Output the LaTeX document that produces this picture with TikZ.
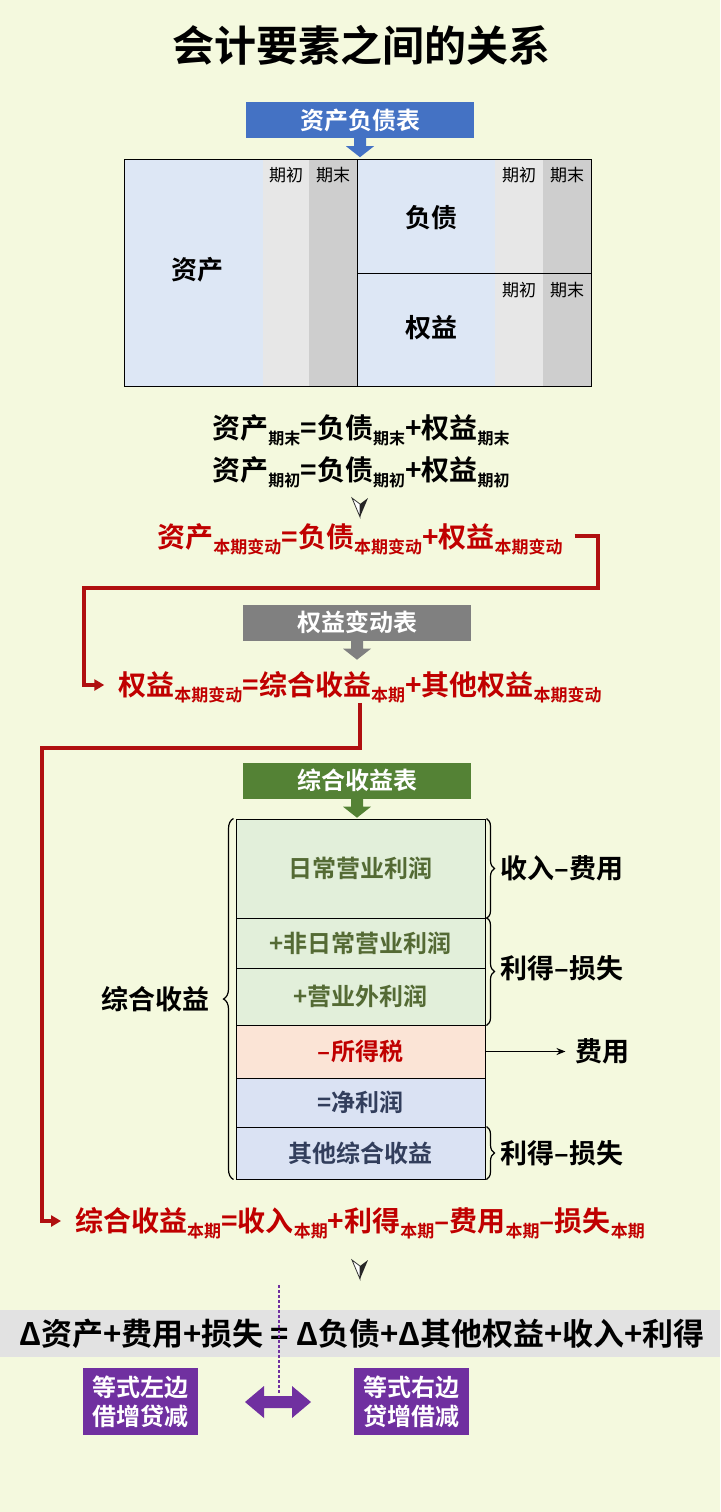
\documentclass[tikz,border=0pt]{standalone}
\usepackage{fontspec}
\setmainfont{Noto Sans CJK SC}[BoldFont={Noto Sans CJK SC Bold}]
\usetikzlibrary{arrows.meta,positioning,decorations.pathreplacing}

\definecolor{bgcol}{RGB}{244,249,222}
\definecolor{bluehd}{RGB}{68,114,196}
\definecolor{grayhd}{RGB}{128,128,128}
\definecolor{greenhd}{RGB}{84,130,53}
\definecolor{purp}{RGB}{112,48,160}
\definecolor{redtx}{RGB}{192,0,0}
\definecolor{linkred}{RGB}{176,16,16}
\definecolor{sheetbl}{RGB}{221,231,245}
\definecolor{colini}{RGB}{231,231,231}
\definecolor{colend}{RGB}{206,206,206}
\definecolor{rowgr}{RGB}{226,239,218}
\definecolor{rowpk}{RGB}{251,228,214}
\definecolor{rowbl}{RGB}{218,226,243}
\definecolor{txgr}{RGB}{84,106,52}
\definecolor{txbl}{RGB}{50,62,92}
\definecolor{band}{RGB}{226,226,226}

\newcommand{\fsz}[1]{\fontsize{#1}{#1}\selectfont}
\newcommand{\subtxt}[1]{\raisebox{-6pt}{\fsz{17}#1}}
\newcommand{\subsm}[1]{\raisebox{-6pt}{\fsz{16}#1}}

\tikzset{
  header/.style={fill=#1,text=white,font=\fsz{24}\bfseries,minimum width=228pt,minimum height=36pt,inner sep=0pt},
  eqn/.style={font=\fsz{28}\bfseries,inner sep=0pt,anchor=base},
  link/.style={draw=linkred,line width=4pt,line join=miter,-{Triangle[length=10pt,width=11pt]}},
  tabrow/.style={draw,line width=1pt,minimum width=249pt,inner sep=0pt,font=\fsz{24}\bfseries},
  sidetxt/.style={font=\fsz{27}\bfseries,inner sep=0pt},
  cbrace/.style={decorate,decoration={brace,amplitude=8pt},line width=1.2pt},
  purplebox/.style={fill=purp,text=white,font=\fontsize{24}{29}\selectfont\bfseries,minimum width=115pt,minimum height=67pt,align=center,inner sep=0pt}
}

\begin{document}
\begin{tikzpicture}[x=1pt,y=-1pt]
  \fill[bgcol] (0,0) rectangle (720,1512);
  \useasboundingbox (0,0) rectangle (720,1512);

  \node[font=\fsz{42}\bfseries] (title) at (361,45) {会计要素之间的关系};

  \node[header=bluehd] (bs) at (360,120) {资产负债表};
  \node[header=grayhd] (ce) at (357,622.5) {权益变动表};
  \node[header=greenhd] (ci) at (357,780.5) {综合收益表};
  \foreach \n/\c in {bs/bluehd,ce/grayhd,ci/greenhd} {
    \fill[\c] ([xshift=-6pt]\n.south) -- ++(0,8) -- ++(-8,0) -- ++(14,11) -- ++(14,-11) -- ++(-8,0) -- ++(0,-8) -- cycle;
  }

  \fill[sheetbl] (124,159) rectangle (591,386);
  \foreach \a/\b/\c in {263/309/colini,309/357/colend,495/543/colini,543/591/colend} {
    \fill[\c] (\a,159) rectangle (\b,386);
  }
  \draw[line width=1pt] (124,159) rectangle (357,386);
  \draw[line width=1pt] (357,159) rectangle (591,273);
  \draw[line width=1pt] (357,273) rectangle (591,386);
  \foreach \x/\y/\t [count=\i] in {286/175/期初,333/175/期末,519/175/期初,567/175/期末,519/290/期初,567/290/期末} {
    \node[font=\fsz{17}] (col\i) at (\x,\y) {\t};
  }
  \node[font=\fsz{26}\bfseries] (asset) at (197,270) {资产};
  \node[font=\fsz{26}\bfseries] (liab) at (431,218) {负债};
  \node[font=\fsz{26}\bfseries] (equity) at (431,328) {权益};

  \node[eqn] (eq1) at (361,438) {资产\subsm{期末}=负债\subsm{期末}+权益\subsm{期末}};
  \node[eqn] (eq2) at (361,480) {资产\subsm{期初}=负债\subsm{期初}+权益\subsm{期初}};
  \node[eqn,text=redtx] (eq3) at (360,547) {资产\subtxt{本期变动}=负债\subtxt{本期变动}+权益\subtxt{本期变动}};
  \node[eqn,text=redtx] (eq4) at (360,695) {权益\subtxt{本期变动}=综合收益\subtxt{本期}+其他权益\subtxt{本期变动}};
  \node[eqn,text=redtx] (eq5) at (360,1231) {综合收益\subtxt{本期}=收入\subtxt{本期}+利得\subtxt{本期}–费用\subtxt{本期}–损失\subtxt{本期}};

  \foreach \y in {498,1260} {
    \filldraw[fill=white,draw=black!80,line width=0.8pt] (352,\y) -- (360,\y+6) -- (360,\y+19) -- cycle;
    \fill[black!85] (368,\y) -- (360,\y+6) -- (360,\y+19) -- cycle;
  }

  \coordinate (k1) at (598,588);
  \coordinate (k2) at (84,588);
  \draw[link] ([xshift=12pt,yshift=11pt]eq3.base east) -| (k1) -- (k2) |- ([xshift=-14pt,yshift=10pt]eq4.base west);
  \coordinate (k3) at (360,748);
  \coordinate (k4) at (42,748);
  \draw[link] (eq4.south -| k3) -- (k3) -- (k4) |- ([xshift=-14pt,yshift=10pt]eq5.base west);

  \foreach \y/\h/\f/\c/\t [count=\i] in {868.5/99pt/rowgr/txgr/日常营业利润,943/50pt/rowgr/txgr/+非日常营业利润,996.5/57pt/rowgr/txgr/+营业外利润,1051.5/53pt/rowpk/redtx/–所得税,1102.5/49pt/rowbl/txbl/=净利润,1153/52pt/rowbl/txbl/其他综合收益} {
    \node[tabrow,fill=\f,text=\c,minimum height=\h] (r\i) at (360.5,\y) {\t};
  }

  \draw[cbrace,decoration={amplitude=10pt}] ([xshift=-2pt]r6.south west) -- ([xshift=-2pt]r1.north west) coordinate[midway] (mid);
  \node[sidetxt,left=24pt of mid] (total) {综合收益};
  \draw[cbrace] ([xshift=1pt]r1.north east) -- ([xshift=1pt]r1.south east);
  \draw[cbrace] ([xshift=1pt]r2.north east) -- ([xshift=1pt]r3.south east);
  \draw[cbrace] ([xshift=1pt]r6.north east) -- ([xshift=1pt]r6.south east);
  \node[sidetxt,right=15pt of r1] (rev) {收入–费用};
  \node[sidetxt,anchor=west] (gain1) at ([xshift=15pt]r2.south east) {利得–损失};
  \node[sidetxt,right=15pt of r6] (gain2) {利得–损失};
  \node[sidetxt,anchor=west] (fee) at ([xshift=90pt]r4.east) {费用};
  \draw[line width=1.5pt,-{Stealth[length=9pt,width=7pt]}] (r4.east) -- ([xshift=-10pt]fee.west);

  \fill[band] (0,1310) rectangle (720,1357);
  \node[font=\fsz{31}\bfseries,inner sep=0pt,anchor=base] (bal) at (362,1345) {Δ资产+费用+损失 = Δ负债+Δ其他权益+收入+利得};

  \node[purplebox] (lhs) at (140.5,1401.5) {等式左边\\借增贷减};
  \node[purplebox] (rhs) at (411,1401.5) {等式右边\\贷增借减};
  \fill[purp] (245,1402) -- ++(19,-16) -- ++(0,10) -- ++(28,0) -- ++(0,-10) -- ++(19,16) -- ++(-19,16) -- ++(0,-10) -- ++(-28,0) -- ++(0,10) -- cycle;
  \draw[purp,line width=2.5pt,dash pattern=on 2.5pt off 2.5pt] (279,1285) -- (279,1393);
\end{tikzpicture}
\end{document}
